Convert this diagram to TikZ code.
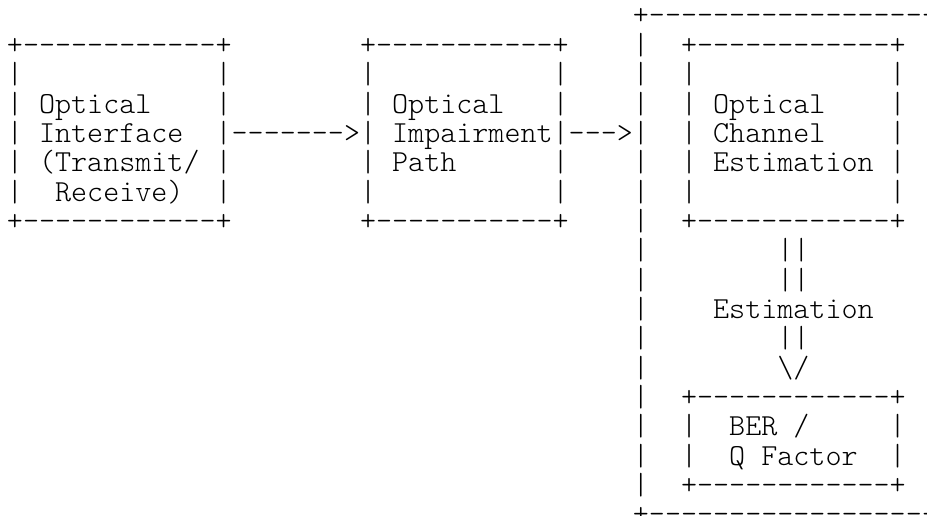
\documentclass[tikz,border=0pt]{standalone}
\usepackage{fontspec}
\setmonofont{lmmonolt10-regular.otf}
\tikzset{
  asc/.style={anchor=base west, inner sep=0pt, outer sep=0pt,
    font=\fontsize{30.57pt}{32pt}\selectfont\ttfamily, text=black}
}
\newcommand\asctxt[4]{\node[asc] (#1) at ({6.975+16.05*(#2)},{25+29.35*(#3)}) {#4};}
\begin{document}
\begin{tikzpicture}[x=1pt,y=-1pt]
\useasboundingbox (0,0) rectangle (927,516);
\clip (0,0) rectangle (927,516);
% outer frame
\asctxt{otop}{39}{0}{+------------------------}
\foreach \r in {1,...,16} {\asctxt{oside\r}{39}{\r}{|}}
\asctxt{obot}{39}{17}{+------------------------}
% box 1
\asctxt{bAtop}{0}{1}{+------------+}
\foreach \r in {2,...,6} {\asctxt{bAl\r}{0}{\r}{|}\asctxt{bAr\r}{13}{\r}{|}}
\asctxt{bAt1}{2}{3}{Optical}
\asctxt{bAt2}{2}{4}{Interface}
\asctxt{bAt3}{2}{5}{(Transmit/}
\asctxt{bAt4}{3}{6}{Receive)}
\asctxt{bAbot}{0}{7}{+------------+}
% arrow 1
\asctxt{arrA}{14}{4}{------->}
% box 2
\asctxt{bBtop}{22}{1}{+-----------+}
\foreach \r in {2,...,6} {\asctxt{bBl\r}{22}{\r}{|}\asctxt{bBr\r}{34}{\r}{|}}
\asctxt{bBt1}{24}{3}{Optical}
\asctxt{bBt2}{24}{4}{Impairment}
\asctxt{bBt3}{24}{5}{Path}
\asctxt{bBbot}{22}{7}{+-----------+}
% arrow 2
\asctxt{arrB}{35}{4}{--->}
% box 3
\asctxt{bCtop}{42}{1}{+------------+}
\foreach \r in {2,...,6} {\asctxt{bCl\r}{42}{\r}{|}\asctxt{bCr\r}{55}{\r}{|}}
\asctxt{bCt1}{44}{3}{Optical}
\asctxt{bCt2}{44}{4}{Channel}
\asctxt{bCt3}{44}{5}{Estimation}
\asctxt{bCbot}{42}{7}{+------------+}
% estimation link
\asctxt{lnk1}{48}{8}{||}
\asctxt{lnk2}{48}{9}{||}
\asctxt{lnkT}{44}{10}{Estimation}
\asctxt{lnk3}{48}{11}{||}
\asctxt{lnk4}{48}{12}{\textbackslash/}
% box 4
\asctxt{bDtop}{42}{13}{+------------+}
\foreach \r in {14,15} {\asctxt{bDl\r}{42}{\r}{|}\asctxt{bDr\r}{55}{\r}{|}}
\asctxt{bDt1}{45}{14}{BER /}
\asctxt{bDt2}{45}{15}{Q Factor}
\asctxt{bDbot}{42}{16}{+------------+}
\end{tikzpicture}
\end{document}
